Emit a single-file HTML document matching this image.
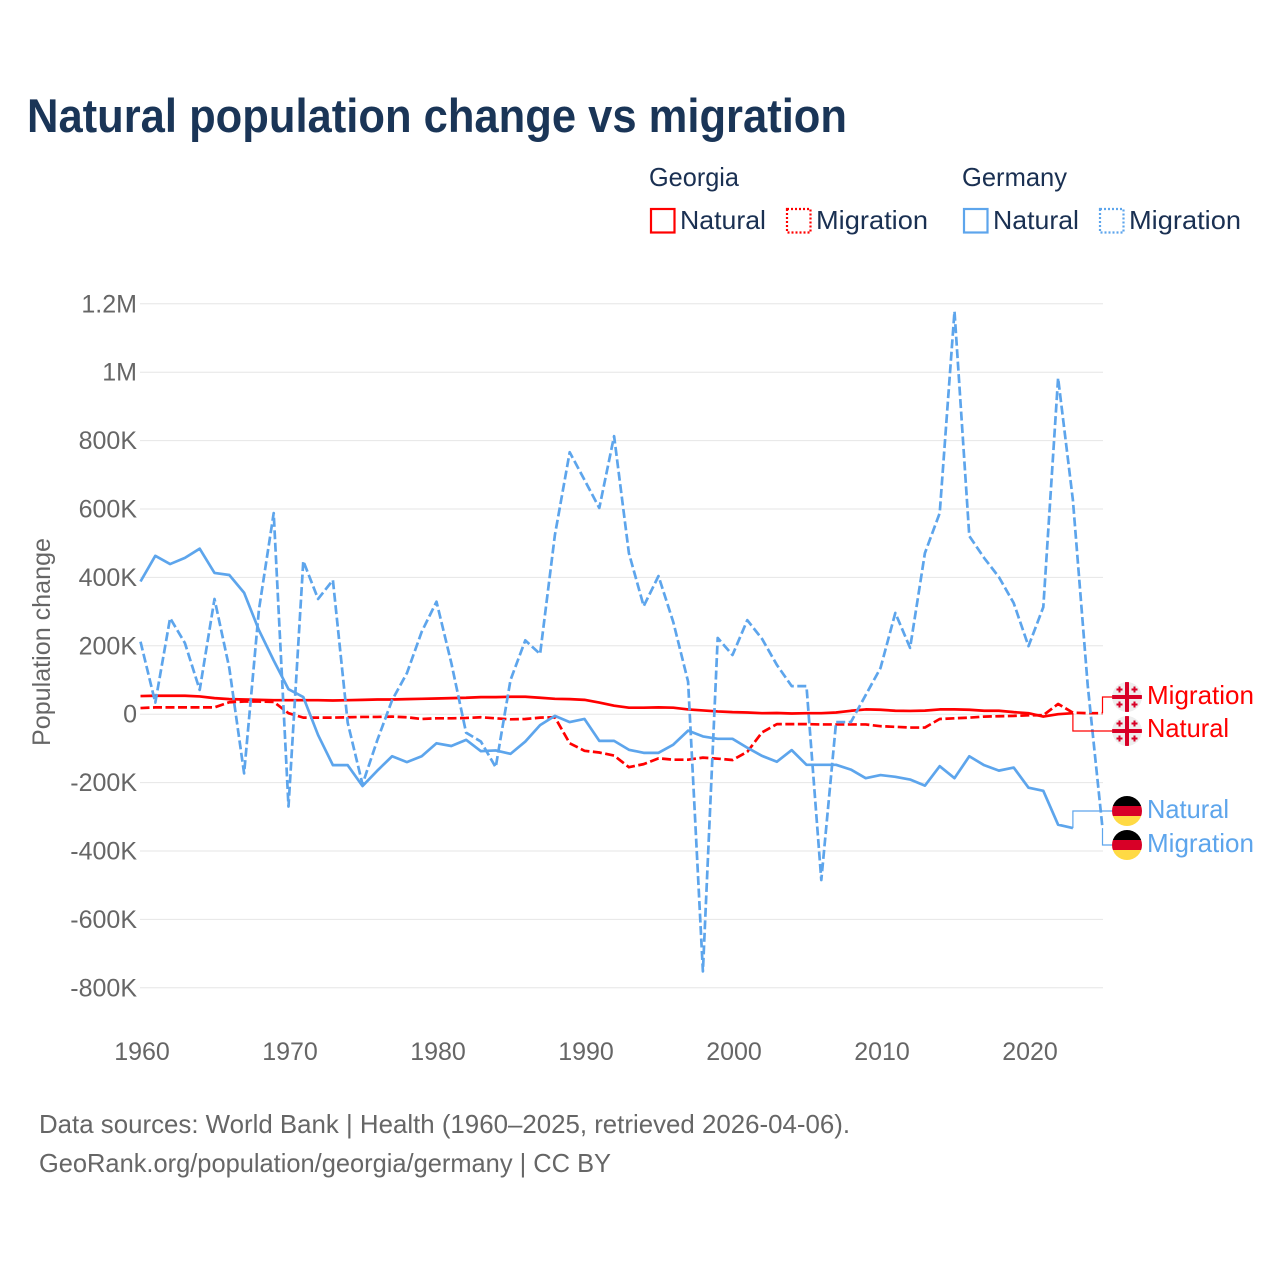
<!DOCTYPE html>
<html lang="en">
<head>
<meta charset="utf-8">
<title>Natural population change vs migration</title>
<style>
  html, body { margin: 0; padding: 0; background: #ffffff; }
  svg { display: block; font-family: "Liberation Sans", Arial, sans-serif; }
  .legend-text { font-size: 26px; fill: #1a3052; }
  .tick { font-size: 25px; fill: #666666; }
  .foot { font-size: 26px; fill: #666666; }
  .end-label { font-size: 26px; }
</style>
</head>
<body>
<svg id="chart" xmlns="http://www.w3.org/2000/svg" width="1280" height="1280" viewBox="0 0 1280 1280">
  <defs>
    <clipPath id="flag-clip"><circle cx="0" cy="0" r="15"></circle></clipPath>
  </defs>
  <rect x="0" y="0" width="1280" height="1280" fill="#ffffff"></rect>

  <text x="27" y="132" font-size="47" font-weight="700" fill="#1a3557" textLength="820" lengthAdjust="spacingAndGlyphs">Natural population change vs migration</text>

  <g>
    <text class="legend-text" x="649" y="186" textLength="90" lengthAdjust="spacingAndGlyphs">Georgia</text>
    <text class="legend-text" x="962" y="186" textLength="105" lengthAdjust="spacingAndGlyphs">Germany</text>
    <g>
      <rect x="651" y="209" width="23.5" height="23.5" fill="none" stroke="#ff0000" stroke-width="2.2"></rect>
      <text class="legend-text" x="680" y="229" textLength="86" lengthAdjust="spacingAndGlyphs">Natural</text>
    </g>
    <g>
      <rect x="787" y="209" width="23.5" height="23.5" fill="none" stroke="#ff0000" stroke-width="2.2" stroke-dasharray="2 2"></rect>
      <text class="legend-text" x="816" y="229" textLength="112" lengthAdjust="spacingAndGlyphs">Migration</text>
    </g>
    <g>
      <rect x="964" y="209" width="23.5" height="23.5" fill="none" stroke="#5da5ec" stroke-width="2.2"></rect>
      <text class="legend-text" x="993" y="229" textLength="86" lengthAdjust="spacingAndGlyphs">Natural</text>
    </g>
    <g>
      <rect x="1100" y="209" width="23.5" height="23.5" fill="none" stroke="#5da5ec" stroke-width="2.2" stroke-dasharray="2 2"></rect>
      <text class="legend-text" x="1129" y="229" textLength="112" lengthAdjust="spacingAndGlyphs">Migration</text>
    </g>
  </g>

  <g id="grid"></g>
  <g id="yticks"></g>
  <g id="xticks"></g>
  <text class="tick" x="0" y="0" transform="translate(50,746) rotate(-90)" textLength="208" lengthAdjust="spacingAndGlyphs">Population change</text>
  <g id="series"></g>
  <g id="callouts"></g>

  <g transform="translate(1127,697)" clip-path="url(#flag-clip)">
    <circle cx="0" cy="0" r="15" fill="#eeeeee"></circle>
    <rect x="-2" y="-16" width="4" height="32" fill="#d80027"></rect><rect x="-16" y="-2" width="32" height="4" fill="#d80027"></rect>
    <path d="M-7.500-10.500v6M-10.500-7.500h6M7.500-10.500v6M4.500-7.500h6M-7.500 4.500v6M-10.500 7.500h6M7.500 4.500v6M4.500 7.500h6" stroke="#d80027" stroke-width="2" fill="none"></path>
  </g>
  <g transform="translate(1127,731)" clip-path="url(#flag-clip)">
    <circle cx="0" cy="0" r="15" fill="#eeeeee"></circle>
    <rect x="-2" y="-16" width="4" height="32" fill="#d80027"></rect><rect x="-16" y="-2" width="32" height="4" fill="#d80027"></rect>
    <path d="M-7.500-10.500v6M-10.500-7.500h6M7.500-10.500v6M4.500-7.500h6M-7.500 4.500v6M-10.500 7.500h6M7.500 4.500v6M4.500 7.500h6" stroke="#d80027" stroke-width="2" fill="none"></path>
  </g>
  <g transform="translate(1127,811)" clip-path="url(#flag-clip)">
    <rect x="-16" y="-16" width="32" height="11" fill="#000000"></rect><rect x="-16" y="-5" width="32" height="10" fill="#d80027"></rect><rect x="-16" y="5" width="32" height="11" fill="#ffda44"></rect>
  </g>
  <g transform="translate(1127,845)" clip-path="url(#flag-clip)">
    <rect x="-16" y="-16" width="32" height="11" fill="#000000"></rect><rect x="-16" y="-5" width="32" height="10" fill="#d80027"></rect><rect x="-16" y="5" width="32" height="11" fill="#ffda44"></rect>
  </g>

  <text class="end-label" fill="#ff0000" x="1147" y="704" textLength="107" lengthAdjust="spacingAndGlyphs">Migration</text>
  <text class="end-label" fill="#ff0000" x="1147" y="737" textLength="82" lengthAdjust="spacingAndGlyphs">Natural</text>
  <text class="end-label" fill="#5da5ec" x="1147" y="818" textLength="82" lengthAdjust="spacingAndGlyphs">Natural</text>
  <text class="end-label" fill="#5da5ec" x="1147" y="852" textLength="107" lengthAdjust="spacingAndGlyphs">Migration</text>

  <text class="foot" x="39" y="1133" textLength="811" lengthAdjust="spacingAndGlyphs">Data sources: World Bank | Health (1960–2025, retrieved 2026-04-06).</text>
  <text class="foot" x="39" y="1172" textLength="572" lengthAdjust="spacingAndGlyphs">GeoRank.org/population/georgia/germany | CC BY</text>
</svg>
<script>
// Chart data (values in thousands of people, one value per year from 1960)
var startYear = 1960;
var xTickYears = [1960, 1970, 1980, 1990, 2000, 2010, 2020];
var yTickValues = [1200, 1000, 800, 600, 400, 200, 0, -200, -400, -600, -800];
var yTickLabels = ["1.2M", "1M", "800K", "600K", "400K", "200K", "0", "-200K", "-400K", "-600K", "-800K"];

var georgiaNatural = [
  53, 54, 54, 54, 52, 47, 44, 43, 42, 41,
  41, 41, 41, 40, 41, 42, 43, 43, 44, 45,
  46, 47, 48, 50, 50, 51, 51, 48, 45, 44,
  42, 34, 25, 19, 19, 20, 19, 14, 11, 8,
  6, 5, 3, 3.500, 2, 3, 3, 5, 10, 14,
  13, 10, 9.500, 10.500, 14, 14, 13, 10, 10, 6,
  3, -7, 0, 3
];
var georgiaMigration = [
  18, 20, 20, 20, 20, 20, 35, 37, 37, 36,
  3, -10, -10, -10, -9, -8, -8, -7, -9, -14,
  -12, -12, -11, -9, -12, -15, -14, -10, -9, -85,
  -107, -112, -121, -155, -146, -129, -133, -133, -127, -130,
  -134, -110, -53, -29, -29, -29, -30, -30, -30, -30,
  -35, -37, -39, -39, -14, -12, -10, -7, -6, -5,
  -3, -3, 30, 4.500, 3, 3
];
var germanyNatural = [
  388, 463, 439, 457, 484, 413, 407, 355, 246, 157,
  73, 50, -61, -149, -149, -210, -165, -123, -140, -123,
  -85, -93, -75, -108, -106, -116, -80, -32, -5, -23,
  -14, -78, -78, -104, -113, -113, -89, -48, -65, -72,
  -72, -98, -122, -139, -105, -148, -148, -148, -162, -187,
  -178, -183, -191, -209, -152, -187, -123, -149, -165, -156,
  -215, -224, -323, -333
];
var germanyMigration = [
  212, 34, 281, 208, 71, 337, 135, -173, 305, 588,
  -270, 448, 337, 392, -25, -205, -76, 41, 120, 241,
  329, 150, -54, -80, -155, 100, 216, 176, 524, 766,
  685, 603, 813, 471, 316, 404, 269, 95, -752, 223,
  173, 275, 220, 144, 82, 82, -485, -23, -23, 56,
  135, 296, 194, 471, 588, 1178, 521, 457, 401, 325,
  199, 313, 983, 626, 85, -333
];

var NS = "http://www.w3.org/2000/svg";
function xScale(year) { return 140.5 + (year - startYear) * 14.8; }
function yScale(value) { return 714.2 - value / 200 * 68.4; }

var gridLayer = document.getElementById("grid");
var yTickLayer = document.getElementById("yticks");
var xTickLayer = document.getElementById("xticks");
var seriesLayer = document.getElementById("series");
var calloutLayer = document.getElementById("callouts");

yTickValues.forEach(function (value, i) {
  var line = document.createElementNS(NS, "line");
  
  
  line.setAttribute("x1", 140);
  line.setAttribute("x2", 1103);
  line.setAttribute("y1", yScale(value));
  line.setAttribute("y2", yScale(value));
  line.setAttribute("stroke", "#e6e6e6");
  line.setAttribute("stroke-width", "1");
  gridLayer.appendChild(line);

  var label = document.createElementNS(NS, "text");
  
  
  label.setAttribute("class", "tick");
  label.setAttribute("x", 137);
  label.setAttribute("y", yScale(value) + 8.500);
  label.setAttribute("text-anchor", "end");
  label.textContent = yTickLabels[i];
  yTickLayer.appendChild(label);
});

xTickYears.forEach(function (year) {
  var label = document.createElementNS(NS, "text");
  
  
  label.setAttribute("class", "tick");
  label.setAttribute("x", xScale(year) + 1.5);
  label.setAttribute("y", 1060);
  label.setAttribute("text-anchor", "middle");
  label.textContent = String(year);
  xTickLayer.appendChild(label);
});

function linePoints(values) {
  return values.map(function (v, i) {
    return xScale(startYear + i).toFixed(2) + "," + yScale(v).toFixed(2);
  }).join(" ");
}

function drawSeries(values, color, dashed, name) {
  var line = document.createElementNS(NS, "polyline");
  
  
  line.setAttribute("points", linePoints(values));
  line.setAttribute("fill", "none");
  line.setAttribute("stroke", color);
  line.setAttribute("stroke-width", "2.7");
  line.setAttribute("stroke-linejoin", "round");
  if (dashed) {
    line.setAttribute("stroke-dasharray", "9 3.5");
  }
  seriesLayer.appendChild(line);
}

function drawCallout(values, color, labelY, name) {
  var last = values.length - 1;
  var endX = xScale(startYear + last);
  var endY = yScale(values[last]);
  var path = document.createElementNS(NS, "polyline");
  
  
  path.setAttribute("points", endX + "," + endY + " " + endX + "," + labelY + " 1112," + labelY);
  path.setAttribute("fill", "none");
  path.setAttribute("stroke", color);
  path.setAttribute("stroke-width", "1.2");
  calloutLayer.appendChild(path);
}

drawSeries(georgiaNatural, "#ff0000", false, "line-georgia-natural");
drawSeries(georgiaMigration, "#ff0000", true, "line-georgia-migration");
drawSeries(germanyNatural, "#5da5ec", false, "line-germany-natural");
drawSeries(germanyMigration, "#5da5ec", true, "line-germany-migration");

drawCallout(georgiaMigration, "#ff0000", 697, "connector-georgia-migration");
drawCallout(georgiaNatural, "#ff0000", 731, "connector-georgia-natural");
drawCallout(germanyNatural, "#5da5ec", 811, "connector-germany-natural");
drawCallout(germanyMigration, "#5da5ec", 845, "connector-germany-migration");
</script>
</body>
</html>
